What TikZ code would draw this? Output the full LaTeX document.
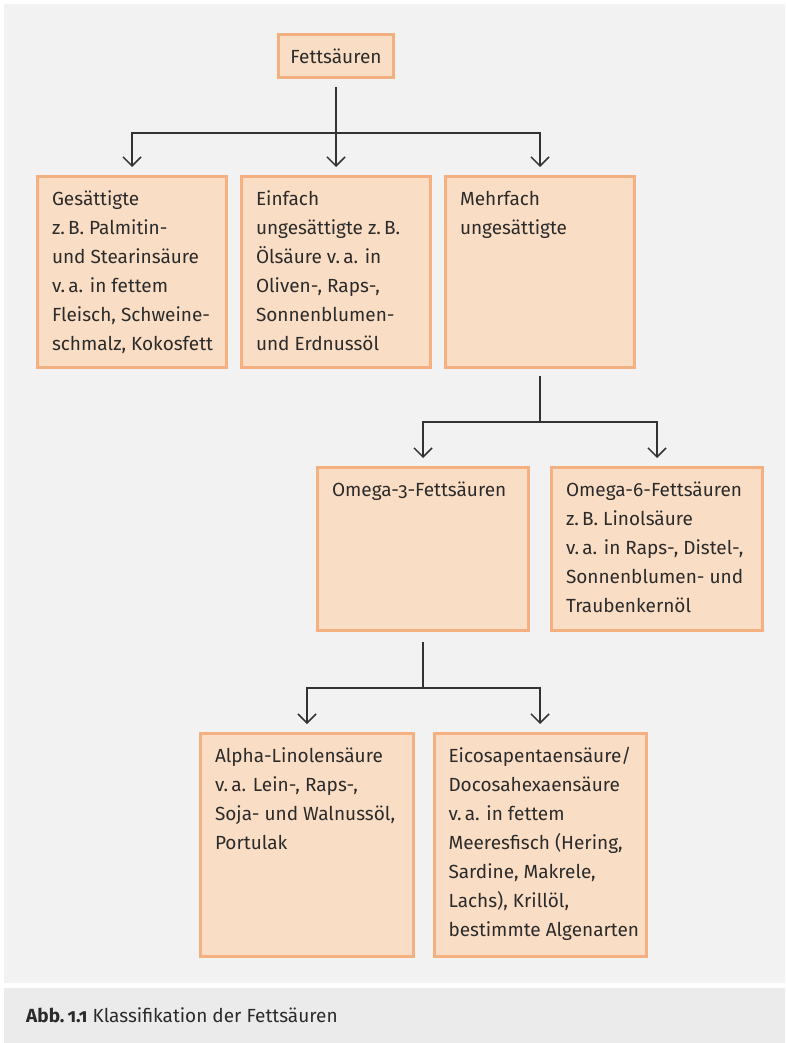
\documentclass[tikz,border=0pt]{standalone}
\usepackage{fontspec}
\setmainfont{Fira Sans}[Numbers=OldStyle]
\usetikzlibrary{arrows.meta}
\definecolor{boxfill}{HTML}{FADDC5}
\definecolor{boxline}{HTML}{F4B080}
\definecolor{panel}{HTML}{F2F2F2}
\definecolor{cappanel}{HTML}{EBEBEB}
\definecolor{ink}{HTML}{2B2B2B}
\definecolor{conn}{HTML}{333333}
\newcommand{\bodyfont}{\fontsize{19}{29}\selectfont}
\newcommand{\boxtext}[3]{\parbox[c][#2][t]{#1}{\hbox to #1{\parbox[t]{400pt}{\raggedright\strut #3}\hss}}}
\tikzset{
  fbox/.style={draw=boxline, fill=boxfill, line width=3pt, inner xsep=14.5pt, inner ysep=9pt, text=ink, font=\bodyfont},
  rootbox/.style={draw=boxline, fill=boxfill, line width=3pt, minimum width=115pt, minimum height=43pt, inner sep=0pt, text=ink, font=\bodyfont},
  link/.style={draw=conn, line width=1.5pt},
  arrowlink/.style={link, -{Straight Barb[length=9pt,width=18pt,line width=1.5pt]}, shorten >=8pt},
}
\begin{document}
\begin{tikzpicture}[x=1pt,y=-1pt]
\useasboundingbox (0,0) rectangle (785,1043);
\fill[white] (0,0) rectangle (785,1043);
\fill[panel] (4,4) rectangle (785,983);
\fill[cappanel] (4,988) rectangle (785,1043);

\node[rootbox] (root) at (336,56) {Fettsäuren};

\node[fbox] (sat) at (132,272) {\boxtext{160pt}{173pt}{Gesättigte\\ z.\,B. Palmitin-\\ und Stearinsäure\\ v.\,a. in fettem\\ Fleisch, Schweine-\\ schmalz, Kokosfett}};
\node[fbox] (mono) at (336,272) {\boxtext{160pt}{173pt}{Einfach\\ ungesättigte z.\,B.\\ Ölsäure v.\,a. in\\ Oliven-, Raps-,\\ Sonnenblumen-\\ und Erdnussöl}};
\node[fbox] (poly) at (540,272) {\boxtext{160pt}{173pt}{Mehrfach\\ ungesättigte}};

\node[fbox] (om3) at (423,549) {\boxtext{182pt}{145pt}{Omega-3-Fettsäuren}};
\node[fbox] (om6) at (657,549) {\boxtext{182pt}{145pt}{Omega-6-Fettsäuren\\ z.\,B. Linolsäure\\ v.\,a. in Raps-, Distel-,\\ Sonnenblumen- und\\ Traubenkernöl}};

\node[fbox] (ala) at (307,845) {\boxtext{184pt}{205pt}{Alpha-Linolensäure\\ v.\,a. Lein-, Raps-,\\ Soja- und Walnussöl,\\ Portulak}};
\node[fbox] (epa) at (540,845) {\boxtext{183pt}{205pt}{Eicosapentaensäure/\\ Docosahexaensäure\\ v.\,a. in fettem\\ Meeresfisch (Hering,\\ Sardine, Makrele,\\ Lachs), Krillöl,\\ bestimmte Algenarten}};

\coordinate (f1) at (336,133);
\coordinate (f2) at (540,422);
\coordinate (f3) at (423,688);

\draw[link, shorten <=8pt] (root.south) -- (f1);
\draw[arrowlink] (f1) -| (sat.north);
\draw[arrowlink] (f1) -- (mono.north);
\draw[arrowlink] (f1) -| (poly.north);

\draw[link, shorten <=7pt] (poly.south) -- (f2);
\draw[arrowlink] (f2) -| (om3.north);
\draw[arrowlink] (f2) -| (om6.north);

\draw[link, shorten <=10pt] (om3.south) -- (f3);
\draw[arrowlink] (f3) -| (ala.north);
\draw[arrowlink] (f3) -| (epa.north);

\node[anchor=base west, inner sep=0pt, text=ink, font=\fontsize{19}{22}\selectfont] (cap) at (26,1022) {\textbf{Abb.\,1.1} Klassifikation der Fettsäuren};
\end{tikzpicture}
\end{document}
